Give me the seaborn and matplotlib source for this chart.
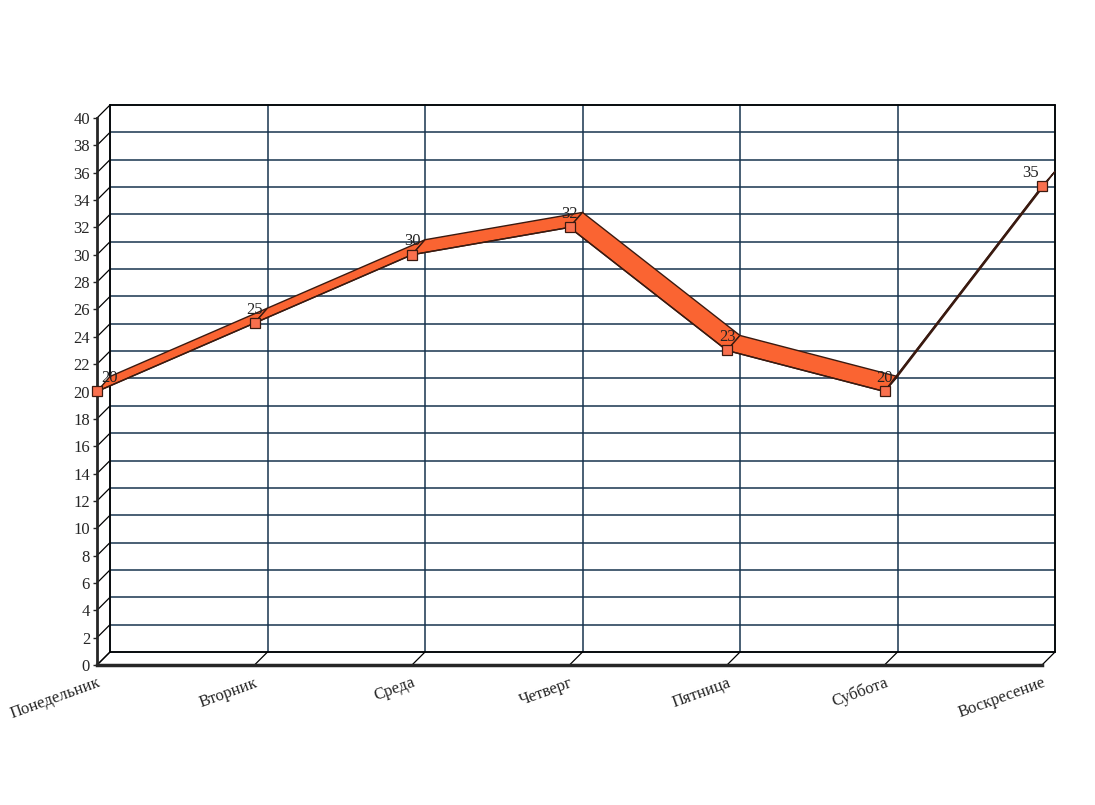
"""
Pseudo-3D ribbon line chart: values by weekday.
"""
import numpy as np
import pandas as pd
import matplotlib
matplotlib.use("Agg")
import matplotlib.pyplot as plt
import seaborn as sns

sns.set_style("white")
plt.rcParams['font.family'] = ['Liberation Serif', 'DejaVu Serif']

# Data
days = ['Понедельник', 'Вторник', 'Среда', 'Четверг', 'Пятница', 'Суббота', 'Воскресение']
values = [20, 25, 30, 32, 23, 20, 35]
y_ticks = list(range(0, 41, 2))

df = pd.DataFrame({'pos': np.arange(len(days)), 'value': values})

GRID = '#17344e'
RIBBON = '#fa6432'
UNDERSIDE = '#5a2c1e'
EDGE = '#3a1a10'

fig = plt.figure(figsize=(10.95, 8.05), dpi=100)
ax = fig.add_axes([97 / 1095, 140 / 805, 945 / 1095, 547 / 805])
ax.set_xlim(0, len(days) - 1)
ax.set_ylim(0, 40)

# depth offset of the back plane (13 px right and up) in data units
px_per_x = 157.5
px_per_y = 13.675
dx = 13 / px_per_x
dy = 13 / px_per_y
xmax = len(days) - 1

# back wall grid
for yv in y_ticks:
    ax.plot([dx, xmax + dx], [yv + dy, yv + dy], color=GRID, lw=1.1, clip_on=False, zorder=1)
    # left wall diagonals
    ax.plot([0, dx], [yv, yv + dy], color='black', lw=0.9, clip_on=False, zorder=1)
for xv in df['pos']:
    ax.plot([xv + dx, xv + dx], [dy, 40 + dy], color=GRID, lw=1.1, clip_on=False, zorder=1)
    # floor diagonals
    ax.plot([xv, xv + dx], [0, dy], color='black', lw=0.9, clip_on=False, zorder=1)
ax.plot([dx, dx], [dy, 40 + dy], color='black', lw=1.2, clip_on=False, zorder=1)
ax.plot([xmax + dx, xmax + dx], [dy, 40 + dy], color='black', lw=1.2, clip_on=False, zorder=1)
ax.plot([dx, xmax + dx], [40 + dy, 40 + dy], color='black', lw=1.2, clip_on=False, zorder=1)
ax.plot([dx, xmax + dx], [dy, dy], color='black', lw=1.2, clip_on=False, zorder=1)

# ribbon faces (slightly deeper than the grid offset, as in the reference)
rdx = 13 / px_per_x
rdy = 15 / px_per_y
xs = df['pos'].to_numpy(dtype=float)
ys = df['value'].to_numpy(dtype=float)
for i in range(len(xs) - 1):
    quad_x = [xs[i], xs[i + 1], xs[i + 1] + rdx, xs[i] + rdx]
    quad_y = [ys[i], ys[i + 1], ys[i + 1] + rdy, ys[i] + rdy]
    sx = (xs[i + 1] - xs[i]) * px_per_x
    sy = (ys[i + 1] - ys[i]) * px_per_y
    # segments steeper than the depth direction show their underside
    face = UNDERSIDE if sy > sx else RIBBON
    ax.fill(quad_x, quad_y, facecolor=face, edgecolor=EDGE, lw=1.0, clip_on=False, zorder=3)

# front edge with markers
sns.lineplot(data=df, x='pos', y='value', ax=ax, color=EDGE, lw=1.0, marker='s',
             markersize=7, markerfacecolor='#f9704e', markeredgecolor='#3a1a10',
             markeredgewidth=0.9, clip_on=False, zorder=4)

# value labels
for i, (xv, yv) in enumerate(zip(xs, ys)):
    ha = 'left' if i == 0 else ('right' if i == len(xs) - 1 else 'center')
    off = 3 if i == 0 else (-2 if i == len(xs) - 1 else 0)
    ax.annotate(f'{int(yv)}', (xv, yv), xytext=(off, 4), textcoords='offset points',
                ha=ha, va='bottom', fontsize=12, color='#222222', zorder=5)

# axes
sns.despine(ax=ax, top=True, right=True)
ax.spines['left'].set_linewidth(2)
ax.spines['bottom'].set_linewidth(2.5)
ax.spines['left'].set_zorder(2)
ax.spines['bottom'].set_zorder(2)
ax.set_yticks(y_ticks)
ax.set_yticklabels([str(t) for t in y_ticks], fontsize=12)
ax.tick_params(axis='y', length=3, width=1, pad=2, left=True)
ax.set_xticks(df['pos'])
ax.set_xticklabels(days, fontsize=12, rotation=20, ha='right', rotation_mode='anchor')
ax.tick_params(axis='x', length=0, pad=7)
ax.set_xlabel('')
ax.set_ylabel('')
ax.grid(False)

fig.savefig('out.png', dpi=100)
plt.close(fig)
